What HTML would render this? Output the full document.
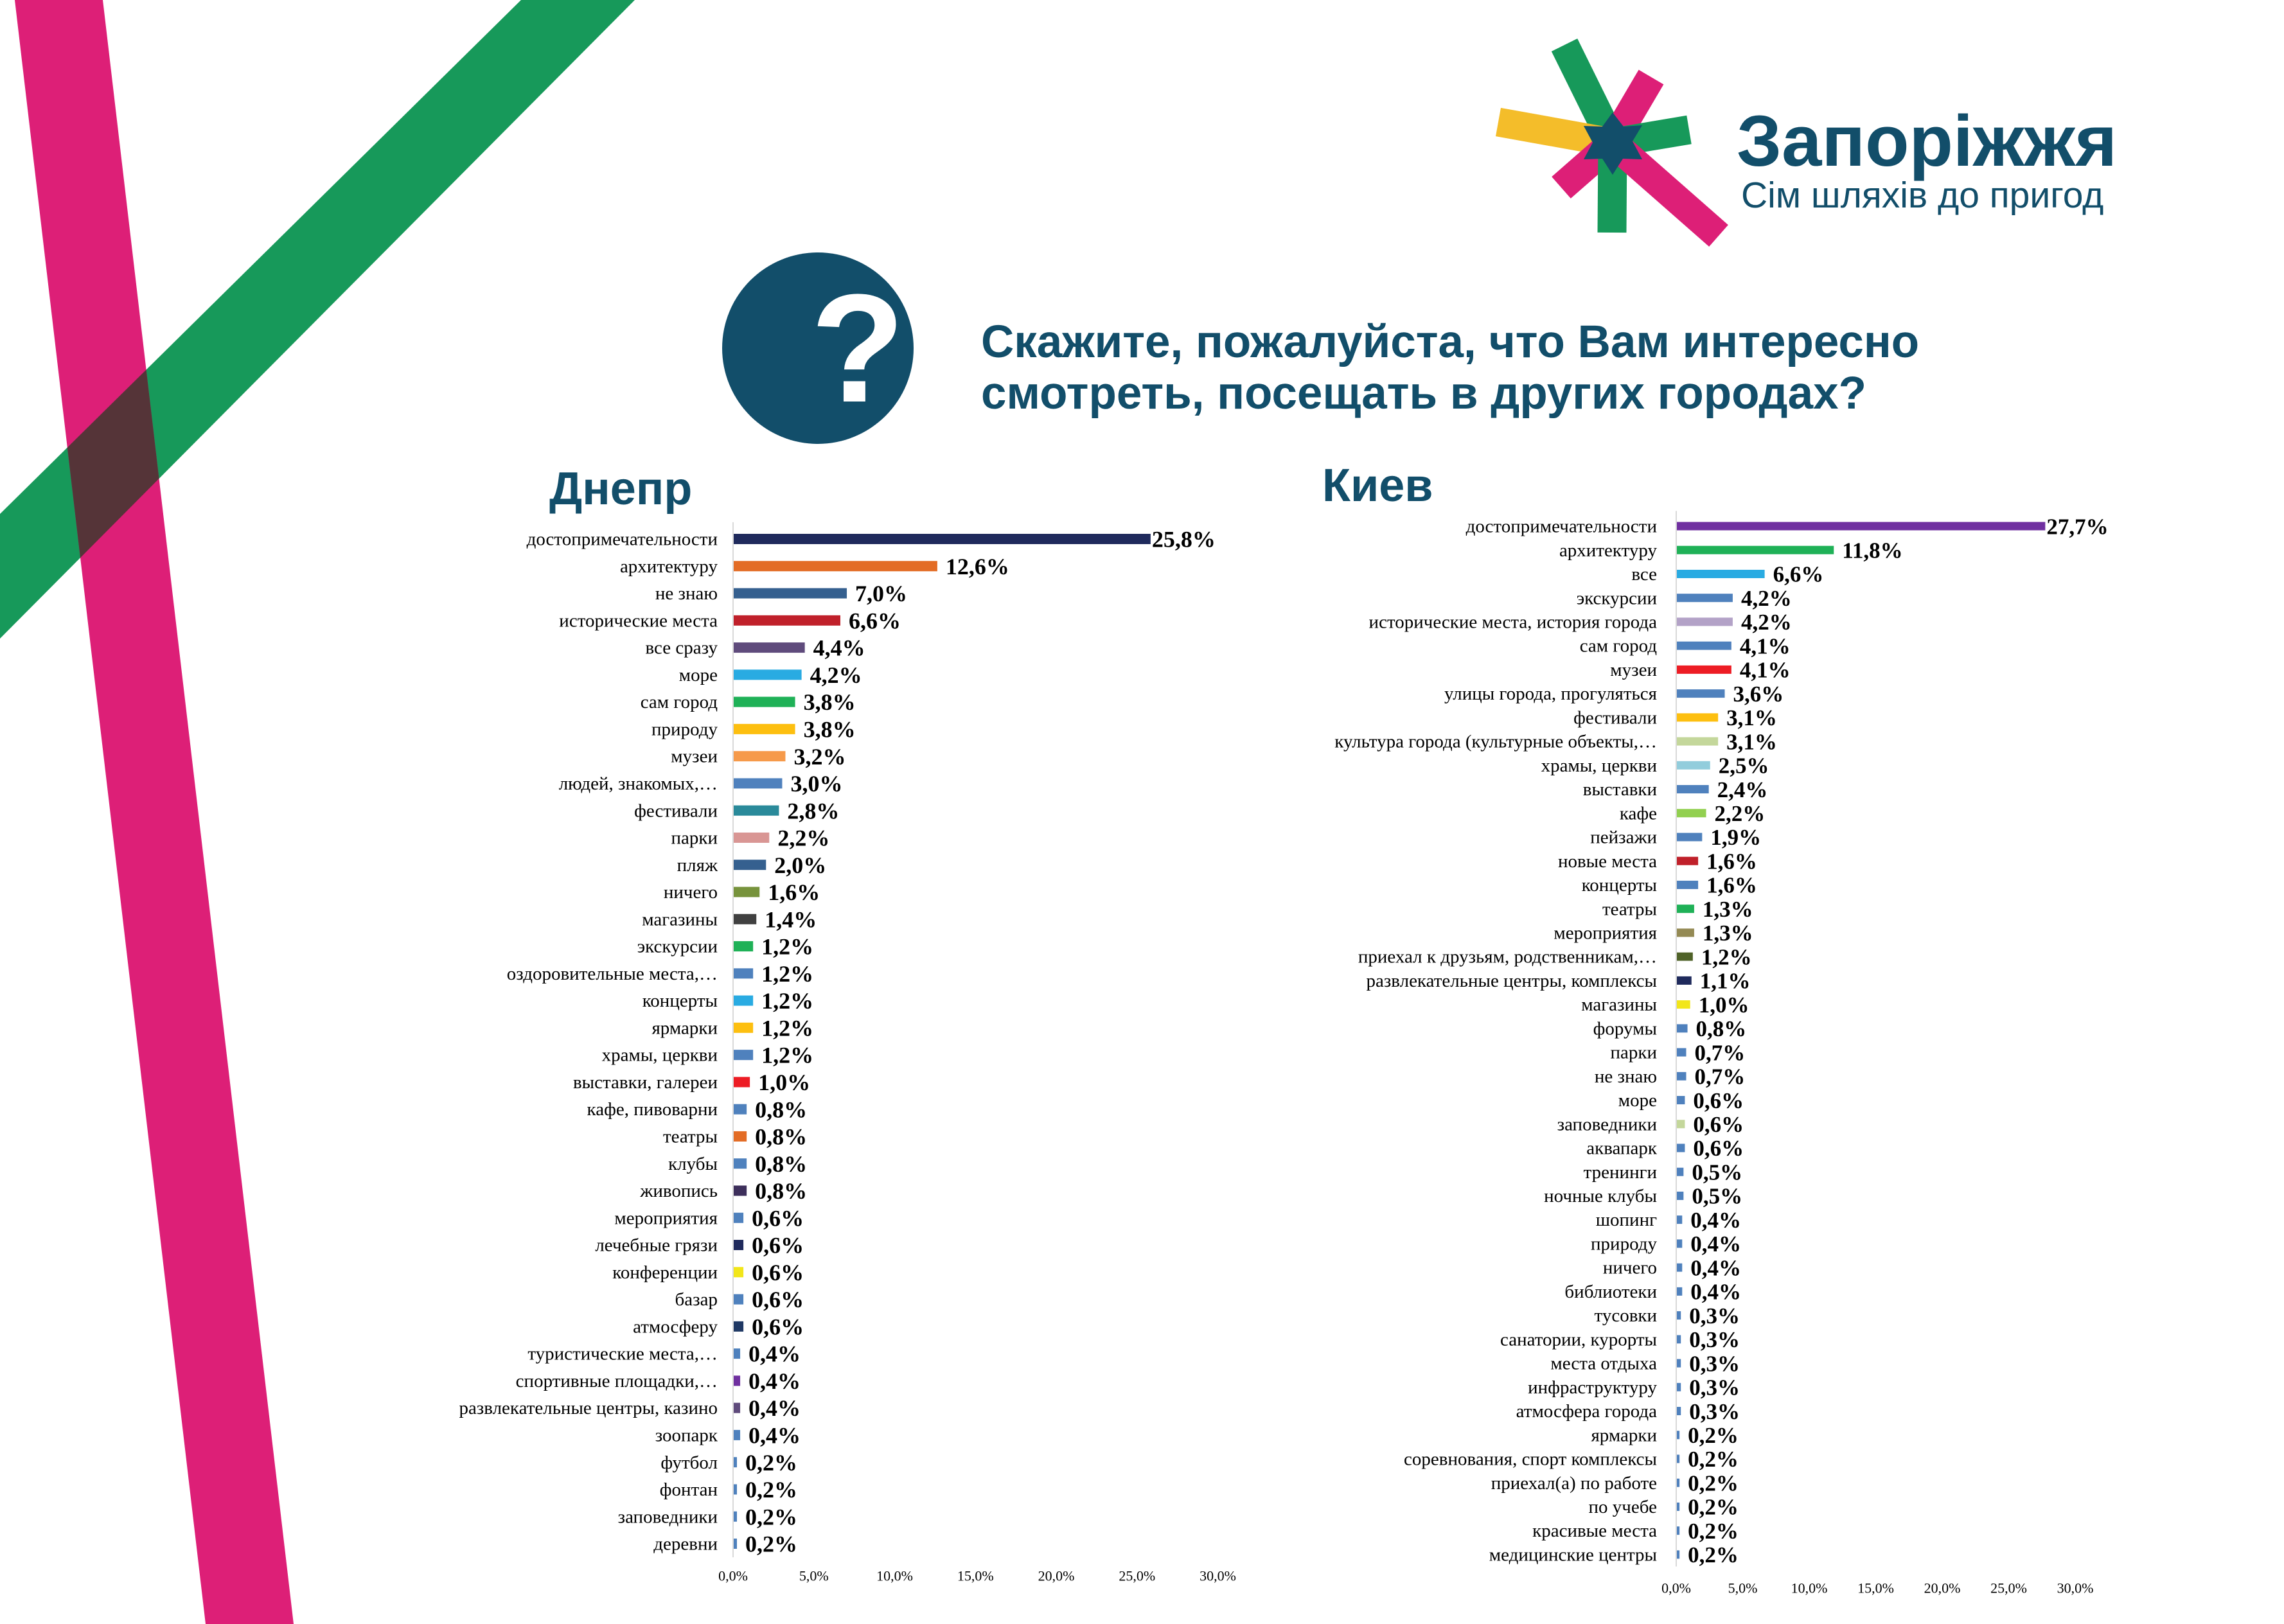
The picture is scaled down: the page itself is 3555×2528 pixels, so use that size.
<!DOCTYPE html>
<html><head><meta charset="utf-8"><style>
html,body{margin:0;padding:0;background:#fff;}
svg{display:block;}
.lab{font-family:"Liberation Serif",serif;fill:#000;}
.val{font-family:"Liberation Serif",serif;font-weight:bold;fill:#000;}
.sans{font-family:"Liberation Sans",sans-serif;}
</style></head><body>
<svg id="s" xmlns="http://www.w3.org/2000/svg" width="3555" height="2528" viewBox="0 0 3555 2528">
<defs><clipPath id="gc"><polygon points="811,0 988,0 0,994 0,800"/></clipPath></defs>
<polygon points="811,0 988,0 0,994 0,800" fill="#17995a"/>
<polygon points="23,0 160,0 457,2528 320,2528" fill="#dd1f77"/>
<polygon points="23,0 160,0 457,2528 320,2528" fill="#553438" clip-path="url(#gc)"/>
<g stroke-linecap="butt" stroke-width="45">
<line x1="2510" y1="222" x2="2435" y2="70" stroke="#17995a"/>
<line x1="2510" y1="222" x2="2332" y2="190" stroke="#f4bd2a"/>
<line x1="2510" y1="222" x2="2570" y2="120" stroke="#dd1f77"/>
<line x1="2510" y1="222" x2="2629" y2="202" stroke="#17995a"/>
<line x1="2510" y1="222" x2="2430" y2="292" stroke="#dd1f77"/>
<line x1="2510" y1="222" x2="2509" y2="362" stroke="#17995a"/>
<line x1="2510" y1="222" x2="2675" y2="367" stroke="#dd1f77"/>
</g>
<polygon points="2510,175 2527,197 2556,195 2541,220 2556,248 2526,247 2510,272 2494,247 2465,248 2479,222 2465,196 2494,197" fill="#124e6a"/>
<text x="2703" y="258" class="sans" font-size="112" font-weight="bold" fill="#124e6a">Запоріжжя</text>
<text x="2710" y="323" class="sans" font-size="57" fill="#124e6a">Сім шляхів до пригод</text>
<circle cx="1273" cy="542" r="149" fill="#124e6a"/>
<text x="1335" y="625" class="sans" font-size="240" font-weight="bold" fill="#fff" text-anchor="middle">?</text>
<text x="1527" y="556" class="sans" font-size="71" font-weight="bold" fill="#124e6a">Скажите, пожалуйста, что Вам интересно</text>
<text x="1527" y="636" class="sans" font-size="71" font-weight="bold" fill="#124e6a">смотреть, посещать в других городах?</text>
<text x="855" y="785" class="sans" font-size="72" font-weight="bold" fill="#124e6a">Днепр</text>
<text x="2058" y="780" class="sans" font-size="72" font-weight="bold" fill="#124e6a">Киев</text>
<g id="charts"></g>
</svg>
<script>
var B="#4f81bd";
var dn=[["достопримечательности",25.8,"#1f2a5c"],["архитектуру",12.6,"#e36c25"],["не знаю",7.0,"#35608f"],["исторические места",6.6,"#c0202a"],["все сразу",4.4,"#5f4b7c"],["море",4.2,"#29abe2"],["сам город",3.8,"#1fb157"],["природу",3.8,"#fdbf10"],["музеи",3.2,"#f69a4a"],["людей, знакомых,…",3.0,B],["фестивали",2.8,"#2a8a9a"],["парки",2.2,"#d99694"],["пляж",2.0,"#35608f"],["ничего",1.6,"#77933c"],["магазины",1.4,"#404040"],["экскурсии",1.2,"#1fb157"],["оздоровительные места,…",1.2,B],["концерты",1.2,"#29abe2"],["ярмарки",1.2,"#fdbf10"],["храмы, церкви",1.2,B],["выставки, галереи",1.0,"#ed1c24"],["кафе, пивоварни",0.8,B],["театры",0.8,"#e36c25"],["клубы",0.8,B],["живопись",0.8,"#3d2f5b"],["мероприятия",0.6,B],["лечебные грязи",0.6,"#1f2a5c"],["конференции",0.6,"#f2e61a"],["базар",0.6,B],["атмосферу",0.6,"#1f3864"],["туристические места,…",0.4,B],["спортивные площадки,…",0.4,"#7030a0"],["развлекательные центры, казино",0.4,"#5f4b7c"],["зоопарк",0.4,B],["футбол",0.2,B],["фонтан",0.2,B],["заповедники",0.2,B],["деревни",0.2,B]];
var kv=[["достопримечательности",27.7,"#7030a0"],["архитектуру",11.8,"#1fb157"],["все",6.6,"#29abe2"],["экскурсии",4.2,B],["исторические места, история города",4.2,"#b3a2c7"],["сам город",4.1,B],["музеи",4.1,"#ed1c24"],["улицы города, прогуляться",3.6,B],["фестивали",3.1,"#fdbf10"],["культура города (культурные объекты,…",3.1,"#c4d79b"],["храмы, церкви",2.5,"#92cddc"],["выставки",2.4,B],["кафе",2.2,"#92d050"],["пейзажи",1.9,B],["новые места",1.6,"#c0202a"],["концерты",1.6,B],["театры",1.3,"#1fb157"],["мероприятия",1.3,"#948a54"],["приехал к друзьям, родственникам,…",1.2,"#4f6228"],["развлекательные центры, комплексы",1.1,"#1f2a5c"],["магазины",1.0,"#f2e61a"],["форумы",0.8,B],["парки",0.7,B],["не знаю",0.7,B],["море",0.6,B],["заповедники",0.6,"#c4d79b"],["аквапарк",0.6,B],["тренинги",0.5,B],["ночные клубы",0.5,B],["шопинг",0.4,B],["природу",0.4,B],["ничего",0.4,B],["библиотеки",0.4,B],["тусовки",0.3,B],["санатории, курорты",0.3,B],["места отдыха",0.3,B],["инфраструктуру",0.3,B],["атмосфера города",0.3,B],["ярмарки",0.2,B],["соревнования, спорт комплексы",0.2,B],["приехал(а) по работе",0.2,B],["по учебе",0.2,B],["красивые места",0.2,B],["медицинские центры",0.2,B]];
var h="";
function chart(d,ax,y0,dy,pp,bh,lf,lg,vf,ty,tf){
 h+='<line x1="'+ax+'" y1="'+(y0-dy/2-5)+'" x2="'+ax+'" y2="'+(y0+dy*(d.length-0.5))+'" stroke="#d9d9d9" stroke-width="2"/>';
 d.forEach(function(r,i){var y=y0+i*dy,w=Math.max(r[1]*pp,4);
  h+='<text class="lab" x="'+(ax-lg)+'" y="'+(y+lf*0.33)+'" font-size="'+lf+'" text-anchor="end">'+r[0]+'</text>';
  h+='<rect x="'+(ax+1)+'" y="'+(y-bh/2)+'" width="'+w+'" height="'+bh+'" fill="'+r[2]+'"/>';
  h+='<text class="val" x="'+(ax+w+(r[1]>20?3:14))+'" y="'+(y+vf*0.35)+'" font-size="'+vf+'">'+r[1].toFixed(1).replace(".",",")+'%</text>';});
 for(var t=0;t<=6;t++){h+='<text class="lab" x="'+(ax+t*5*pp)+'" y="'+(ty+tf*0.35)+'" font-size="'+tf+'" text-anchor="middle">'+(t*5).toFixed(1).replace(".",",")+'%</text>';}
}
chart(dn,1141,839,42.27,25.15,16,29,24,36,2453,22);
chart(kv,2609,819,37.23,20.7,13,29,30,35,2472,22);
document.getElementById("charts").innerHTML=h;
</script>
</body></html>
